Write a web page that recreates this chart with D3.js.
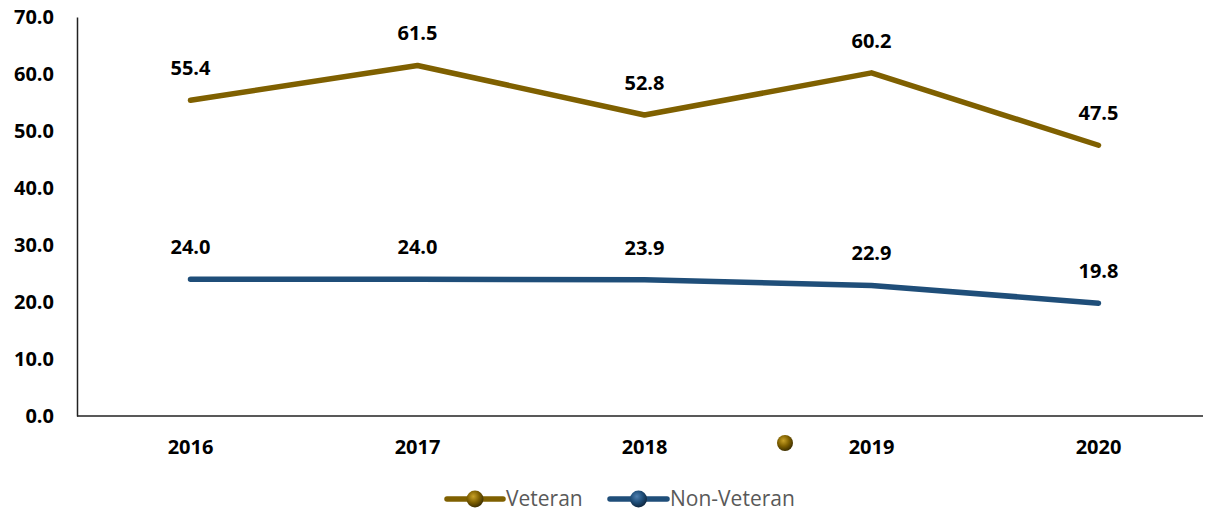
<!DOCTYPE html>
<html>
<head>
<meta charset="utf-8">
<script src="https://cdn.jsdelivr.net/npm/d3@7/dist/d3.min.js"></script>
<style>
  html, body { margin: 0; padding: 0; background: #fff; }
  svg { display: block; }
</style>
</head>
<body>
<svg id="chart" width="1205" height="516"></svg>
<script>
const years = ["2016", "2017", "2018", "2019", "2020"];
const veteran = [55.4, 61.5, 52.8, 60.2, 47.5];
const nonVeteran = [24.0, 24.0, 23.9, 22.9, 19.8];
const yTicks = [0, 10, 20, 30, 40, 50, 60, 70];
const seriesNames = ["Veteran", "Non-Veteran"];
const seriesColors = ["#7F6000", "#1F4E79"];

const svg = d3.select("#chart");
const font = "'Open Sans', 'Liberation Sans', sans-serif";
const labelSize = 20;

const x = d3.scaleBand().domain(years).range([77, 1212]);
const y = d3.scaleLinear().domain([0, 70]).range([416, 17]);

// gradients for the ball markers
const defs = svg.append("defs");
const ballColors = { gold: ["#C9A227", "#7F6000", "#3F3000"], blue: ["#4F7FAF", "#1F4E79", "#0F2740"] };
Object.entries(ballColors).forEach(([k, c]) => {
  const g = defs.append("radialGradient").attr("id", "ball-" + k)
    .attr("cx", "40%").attr("cy", "35%").attr("r", "65%");
  g.append("stop").attr("offset", "0%").attr("stop-color", c[0]);
  g.append("stop").attr("offset", "55%").attr("stop-color", c[1]);
  g.append("stop").attr("offset", "100%").attr("stop-color", c[2]);
});

// y axis
const yAxis = svg.append("g").attr("transform", "translate(77,0)")
  .call(d3.axisLeft(y).tickValues(yTicks).tickSize(0).tickPadding(23).tickFormat(d3.format(".1f")));
yAxis.select(".domain").attr("stroke", "#222").attr("stroke-width", 1.5);
yAxis.selectAll("text").attr("font-family", font).attr("font-weight", "bold")
  .attr("font-size", labelSize).attr("fill", "#000");

// x axis
const xAxis = svg.append("g").attr("transform", "translate(0,416)")
  .call(d3.axisBottom(x).tickSize(0).tickPadding(24));
xAxis.select(".domain").attr("d", "M77,0H1203").attr("stroke", "#222").attr("stroke-width", 1.5);
xAxis.selectAll("text").attr("font-family", font).attr("font-weight", "bold")
  .attr("font-size", labelSize).attr("fill", "#000");

const cx = d => x(d) + x.bandwidth() / 2;
const line = d3.line().x((d, i) => cx(years[i])).y(d => y(d));

[veteran, nonVeteran].forEach((vals, s) => {
  svg.append("path").datum(vals).attr("d", line)
    .attr("fill", "none").attr("stroke", seriesColors[s])
    .attr("stroke-width", 5.5).attr("stroke-linecap", "round").attr("stroke-linejoin", "round");
  svg.append("g").selectAll("text").data(vals).join("text")
    .attr("x", (d, i) => cx(years[i]))
    .attr("y", d => y(d) - 25)
    .attr("text-anchor", "middle")
    .attr("font-family", font).attr("font-weight", "bold").attr("font-size", labelSize)
    .attr("fill", "#000")
    .text(d => d.toFixed(1));
});

// lone marker below the plot
svg.append("circle").attr("cx", 785).attr("cy", 443).attr("r", 8)
  .attr("fill", "url(#ball-gold)");

// legend
const legend = svg.append("g").attr("transform", "translate(0,499)");
const legendItems = [
  { x0: 447, x1: 503, grad: "gold" },
  { x0: 610, x1: 667, grad: "blue" }
];
legendItems.forEach((it, i) => {
  legend.append("line").attr("x1", it.x0).attr("x2", it.x1).attr("y1", 0).attr("y2", 0)
    .attr("stroke", seriesColors[i]).attr("stroke-width", 5.5).attr("stroke-linecap", "round");
  legend.append("circle").attr("cx", (it.x0 + it.x1) / 2).attr("cy", 0).attr("r", 8.5)
    .attr("fill", "url(#ball-" + it.grad + ")");
  legend.append("text").attr("x", it.x1 + 3).attr("y", 0).attr("dy", "0.35em")
    .attr("font-family", font).attr("font-size", 21).attr("fill", "#595959")
    .text(seriesNames[i]);
});
</script>
</body>
</html>
